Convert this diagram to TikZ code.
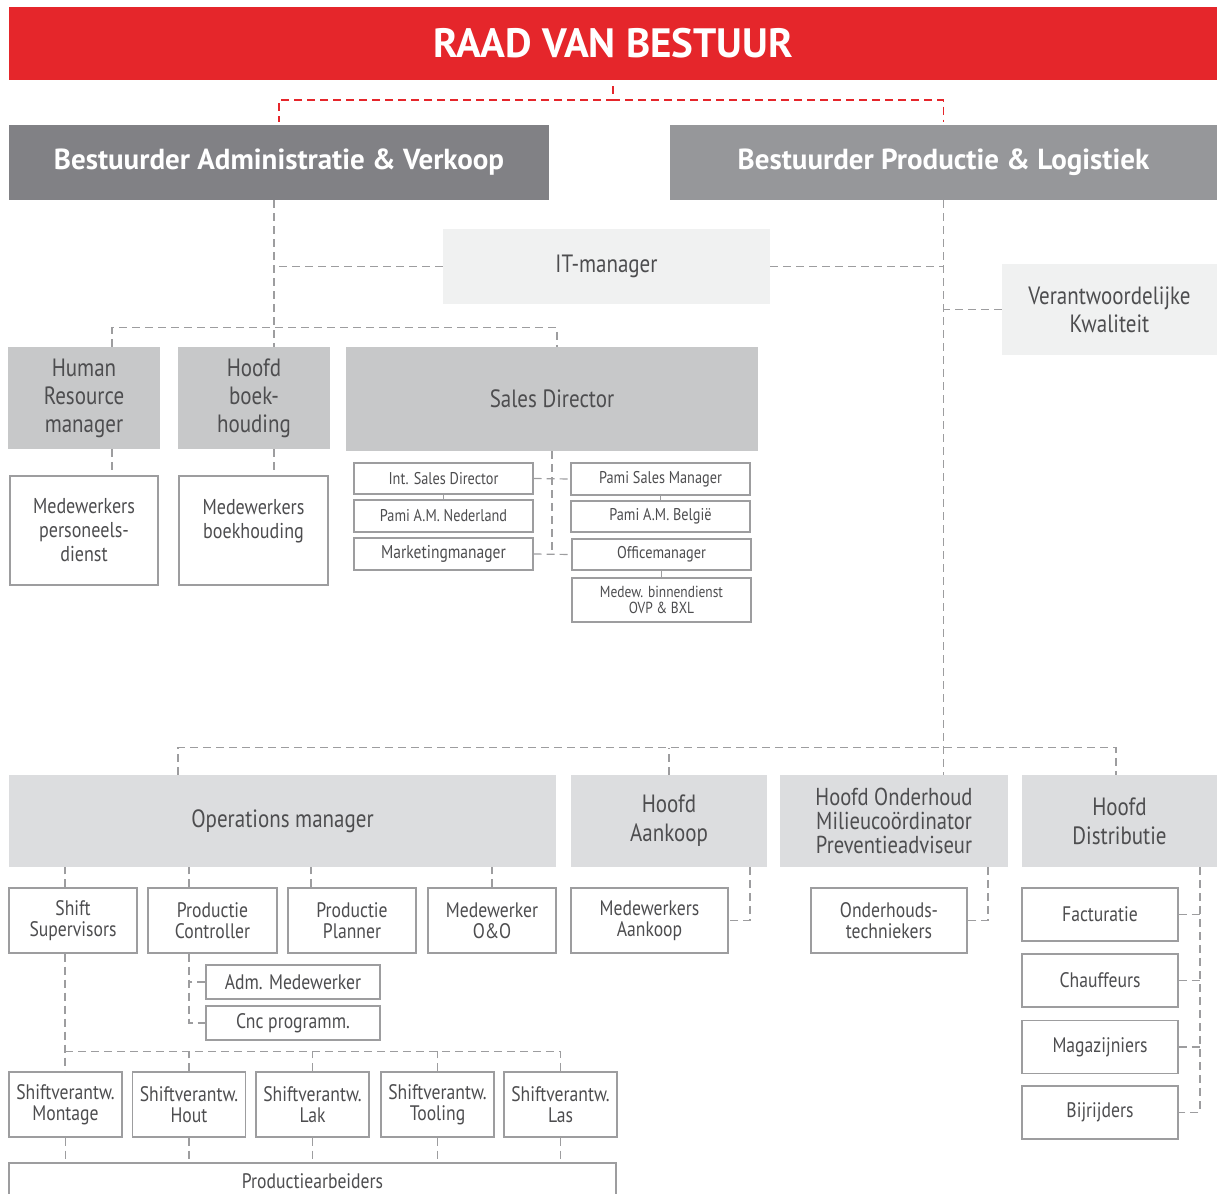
\documentclass[tikz,border=0pt]{standalone}
\usepackage{fontspec}
\setmainfont{PT Sans}
\newfontfamily\cond[FakeStretch=0.84]{PT Sans}
\newcommand\fs[2]{\fontsize{#1}{#2}\selectfont}
\definecolor{clred}{HTML}{E5262B}
\definecolor{cldark}{HTML}{818185}
\definecolor{clmid}{HTML}{96979A}
\definecolor{cllite}{HTML}{C7C8C9}
\definecolor{clpale}{HTML}{DCDDDF}
\definecolor{clfaint}{HTML}{F0F1F1}
\definecolor{cltext}{HTML}{4D4D4F}
\definecolor{clline}{HTML}{9D9D9F}

\begin{document}
\begin{tikzpicture}[x=1pt, y=-1pt,
    card/.style 2 args={inner sep=0pt, minimum width=#1, minimum height=#2, align=center, text=cltext},
    chief/.style={text=white, font=\bfseries\fs{29}{32}},
    mgr/.style={font=\cond\fs{25}{28}},
    staff/.style={draw=clline, line width=1.2pt, fill=white, font=\cond\fs{21}{21}},
    small/.style={font=\cond\fs{17}{18}},
    link/.style={draw=clline, line width=1.2pt, dash pattern=on 8pt off 5pt},
    redlink/.style={draw=clred, line width=1.5pt, dash pattern=on 8pt off 5pt},
    tie/.style={draw=clline, line width=1.2pt}]
\useasboundingbox (0,0) rectangle (1217,1193);

% board and directors
\node[card={1208}{73}, fill=clred, text=white, font=\bfseries\fs{41}{44}] (raad) at (613,43.5) {RAAD VAN BESTUUR};
\node[card={540}{75}, chief, fill=cldark] (bav) at (279,162.5) {Bestuurder Administratie \& Verkoop};
\node[card={547}{75}, chief, fill=clmid] (bpl) at (943.5,162.5) {Bestuurder Productie \& Logistiek};

\node[card={327}{75}, mgr, fill=clfaint] (it) at (606.5,266.5) {IT-manager};
\node[card={215}{91}, mgr, fill=clfaint] (kwal) at (1109.5,309.5) {Verantwoordelijke\\Kwaliteit};

% administratie & verkoop
\node[card={152}{102}, mgr, fill=cllite] (hr) at (84,398) {Human\\Resource\\manager};
\node[card={152}{102}, mgr, fill=cllite] (boek) at (254,398) {Hoofd\\boek-\\houding};
\node[card={412}{104}, mgr, fill=cllite] (sales) at (552,399) {Sales Director};
\node[card={148}{109}, staff, font=\cond\fs{21.5}{24}] (mpd) at (84,530.5) {Medewerkers\\personeels-\\dienst};
\node[card={149}{109}, staff, font=\cond\fs{21.5}{24}] (mbh) at (253.5,530.5) {Medewerkers\\boekhouding\\\mbox{}};

\node[card={179}{31}, staff, small] (isd) at (443.5,478.5) {Int. Sales Director};
\node[card={179}{32}, staff, small] (pnl) at (443.5,516) {Pami A.M. Nederland};
\node[card={179}{32}, staff, small, font=\cond\fs{18.5}{18}] (mkt) at (443.5,554) {Marketingmanager};
\node[card={179}{32}, staff, small] (psm) at (660.5,479) {Pami Sales Manager};
\node[card={179}{31}, staff, small] (pbe) at (660.5,516.5) {Pami A.M. België};
\node[card={179}{31}, staff, small] (ofm) at (661.5,554.5) {Officemanager};
\node[card={179}{44}, staff, font=\cond\fs{16}{16}] (mbd) at (661.5,600) {Medew. binnendienst\\OVP \& BXL};

% productie & logistiek
\node[card={547}{92}, mgr, fill=clpale] (ops) at (282.5,821) {Operations manager};
\node[card={196}{92}, mgr, fill=clpale, font=\cond\fs{25}{29}] (hak) at (669,821) {Hoofd\\Aankoop};
\node[card={228}{92}, mgr, fill=clpale, font=\cond\fs{24.5}{24}] (hon) at (894,821) {Hoofd Onderhoud\\Milieucoördinator\\Preventieadviseur};
\node[card={195}{92}, mgr, fill=clpale, font=\cond\fs{25}{29}] (hdi) at (1119.5,821) {Hoofd\\Distributie};

\node[card={128}{65}, staff] (ss) at (73,920.5) {Shift\\Supervisors};
\node[card={129}{65}, staff] (pc) at (212.5,920.5) {Productie\\Controller};
\node[card={128}{65}, staff] (pp) at (352,920.5) {Productie\\Planner};
\node[card={128}{65}, staff] (oo) at (492,920.5) {Medewerker\\O\&O};
\node[card={157}{65}, staff] (mak) at (649.5,920.5) {Medewerkers\\Aankoop};
\node[card={156}{65}, staff] (oht) at (889,920.5) {Onderhouds-\\techniekers};
\node[card={174}{34}, staff] (adm) at (293,982) {Adm. Medewerker};
\node[card={174}{34}, staff] (cnc) at (293,1023) {Cnc programm.};
\foreach \n/\x/\t in {sv1/65.5/Montage, sv2/189/Hout, sv3/312.5/Lak, sv4/437.5/Tooling, sv5/560.5/Las}
  \node[card={113}{65}, staff] (\n) at (\x,1104.5) {Shiftverantw.\\\t};
\node[card={607}{36}, staff] (pa) at (312.5,1181) {Productiearbeiders};
\foreach \n/\y/\t in {fac/914.5/Facturatie, cha/980.5/Chauffeurs, mag/1047/Magazijniers, bij/1112.5/Bijrijders}
  \node[card={156}{53}, staff] (\n) at (1100,\y) {\t};

% connectors
\draw[redlink] ([yshift=-6pt]raad.south) -- ++(0,14) -| ([yshift=3pt]bav.north);
\draw[redlink] ([yshift=-6pt]raad.south) -- ++(0,14) -| ([yshift=3pt]bpl.north);

\coordinate (av) at ([xshift=-5pt]bav.south);
\draw[link] (av) -- (av |- boek.north);
\draw[link] (it.west) -- (it.west -| av);
\draw[link] (it.east) -- (it.east -| bpl.south);
\draw[link] (bpl.south) -- (bpl.south |- hon.north);
\draw[link] (kwal.west) -- (kwal.west -| bpl.south);
\draw[link] ([xshift=28pt]hr.north) -- ++(0,-19) -| ([xshift=5pt]sales.north);
\draw[link] ([xshift=28pt]hr.south) -- ([xshift=28pt]hr.south |- mpd.north);
\draw[link] ([xshift=20pt]boek.south) -- ([xshift=20pt]boek.south |- mbh.north);

\draw[link] (sales.south) -- (sales.south |- ofm.west);
\draw[link] (isd.east) -- (psm.west);
\draw[link] (mkt.east) -- (ofm.west);
\draw[tie] (isd) -- (pnl);
\draw[tie] (psm) -- (pbe);
\draw[tie] (ofm) -- (mbd);

\draw[link] ([xshift=-104.5pt]ops.north) -- ++(0,-27) -| ([xshift=-3.5pt]hdi.north);
\draw[link] (hak.north) -- ++(0,-27);
\draw[link] ([xshift=-8pt]ss.north) -- ([xshift=-8pt]ss.north |- ops.south);
\draw[link] ([xshift=-23.5pt]pc.north) -- ([xshift=-23.5pt]pc.north |- ops.south);
\draw[link] ([xshift=-41pt]pp.north) -- ([xshift=-41pt]pp.north |- ops.south);
\draw[link] (oo.north) -- (oo.north |- ops.south);

\coordinate (pcx) at ([xshift=-23.5pt]pc.south);
\draw[link] (pcx) |- (cnc.west);
\draw[link] (adm.west) -- (adm.west -| pcx);

\coordinate (ssx) at ([xshift=-8pt]ss.south);
\draw[link] (ssx) -- (ssx |- sv1.north);
\draw[link] (ssx |- sv5.north) ++(0,-20) -| (sv5.north);
\foreach \n in {sv2,sv3,sv4}
  \draw[link] (\n.north) -- ++(0,-20);
\foreach \n in {sv1,sv2,sv3,sv4,sv5}
  \draw[link] (\n.south) -- (\n.south |- pa.north);

\draw[link] ([xshift=81pt]hak.south) |- (mak.east);
\draw[link] ([xshift=94pt]hon.south) |- (oht.east);
\coordinate (hdx) at ([xshift=80.5pt]hdi.south);
\draw[link] (hdx) |- (bij.east);
\foreach \n in {fac,cha,mag}
  \draw[link] (\n.east) -- (\n.east -| hdx);
\end{tikzpicture}
\end{document}
